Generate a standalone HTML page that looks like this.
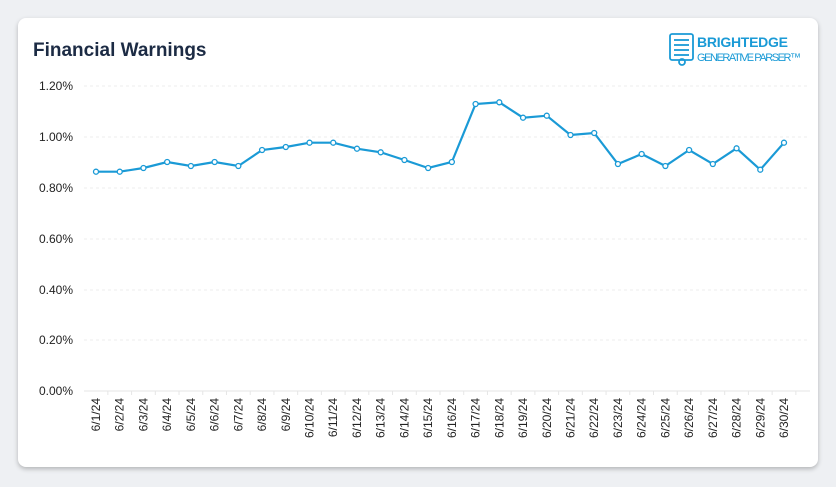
<!DOCTYPE html>
<html><head><style>
body{margin:0;background:#eef0f3;width:836px;height:487px;overflow:hidden;font-family:"Liberation Sans",Arial,sans-serif;}
.card{position:absolute;left:18px;top:18px;width:800px;height:449px;background:#fff;border-radius:8px;box-shadow:0 2px 5px rgba(0,0,0,.25);}
</style></head><body>
<div class="card"></div>
<svg width="836" height="487" style="position:absolute;left:0;top:0" font-family="Liberation Sans, Arial, sans-serif">
<text x="33" y="56" font-size="19" font-weight="bold" fill="#1c2b44">Financial Warnings</text>
<g stroke="#1a9ad6" stroke-width="1.8" fill="none">
<rect x="670" y="34" width="23" height="26" rx="2"/>
<line x1="674" y1="40" x2="689" y2="40"/><line x1="674" y1="45" x2="689" y2="45"/><line x1="674" y1="50" x2="689" y2="50"/><line x1="674" y1="55" x2="689" y2="55"/>
<circle cx="682" cy="62" r="3"/>
</g>
<text x="697" y="47" font-size="14" font-weight="bold" fill="#1a9ad6" textLength="91">BRIGHTEDGE</text>
<text x="697" y="61" font-size="11" fill="#1a9ad6" textLength="104">GENERATIVE PARSER™</text>
<g stroke="#ececec" stroke-dasharray="3,3">
<line x1="84" y1="86" x2="810" y2="86"/><line x1="84" y1="137" x2="810" y2="137"/><line x1="84" y1="188" x2="810" y2="188"/><line x1="84" y1="239" x2="810" y2="239"/><line x1="84" y1="290" x2="810" y2="290"/><line x1="84" y1="340" x2="810" y2="340"/>
</g>
<line x1="84" y1="391" x2="810" y2="391" stroke="#e6e6e6"/>
<g font-size="12" fill="#222" text-anchor="end">
<text x="73" y="90">1.20%</text><text x="73" y="141">1.00%</text><text x="73" y="192">0.80%</text><text x="73" y="243">0.60%</text><text x="73" y="294">0.40%</text><text x="73" y="344">0.20%</text><text x="73" y="395">0.00%</text>
</g>
<g id="lbl" font-size="12" fill="#222" text-anchor="end"></g>
<polyline id="ln" fill="none" stroke="#1a9ad6" stroke-width="2.2"/>
<g id="pts" fill="#fff" stroke="#1a9ad6" stroke-width="1.3"></g>
</svg>
<script>
var ys=[171.7,171.7,168,162,166,162,166,150,147,142.7,142.7,148.7,152.3,160,168,162,104,102.3,117.7,115.7,135,133,164,154,166,150,164,148.3,169.7,142.7];
var p=[],L=document.getElementById('lbl'),P=document.getElementById('pts'),ns="http://www.w3.org/2000/svg";
ys.forEach(function(y,i){var x=96+i*688/29;p.push(x+","+y);
var c=document.createElementNS(ns,'circle');c.setAttribute('cx',x);c.setAttribute('cy',y);c.setAttribute('r',2.5);P.appendChild(c);
var t=document.createElementNS(ns,'text');t.setAttribute('transform','translate('+(x+4)+',398) rotate(-90)');t.textContent='6/'+(i+1)+'/24';L.appendChild(t);
var k=document.createElementNS(ns,'line');k.setAttribute('x1',x+11.86);k.setAttribute('x2',x+11.86);k.setAttribute('y1',391);k.setAttribute('y2',395);k.setAttribute('stroke','#e6e6e6');L.appendChild(k);});
document.getElementById('ln').setAttribute('points',p.join(' '));
</script>
</body></html>
